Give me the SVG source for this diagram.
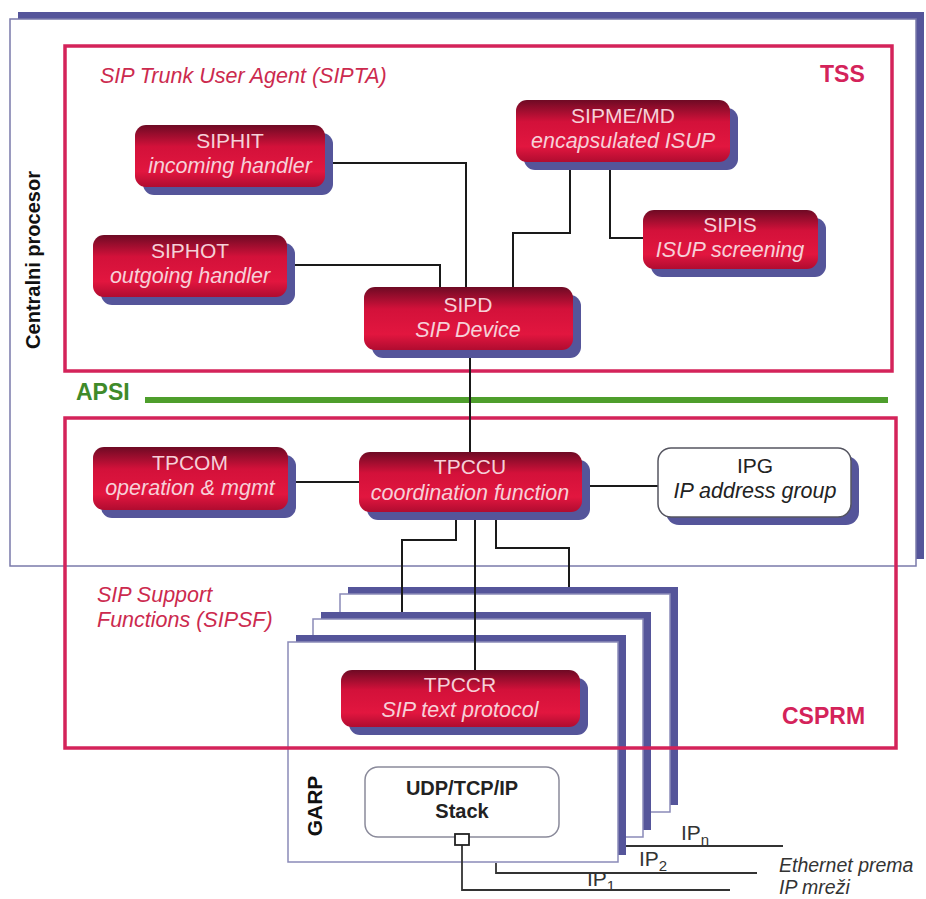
<svg xmlns="http://www.w3.org/2000/svg" width="926" height="899" viewBox="0 0 926 899">
<defs>
<linearGradient id="rg" x1="0" y1="0" x2="0" y2="1">
<stop offset="0" stop-color="#6e0a24"/>
<stop offset="0.35" stop-color="#d3113a"/>
<stop offset="0.75" stop-color="#e2163f"/>
<stop offset="1" stop-color="#b00c30"/>
</linearGradient>
<style>
text{font-family:"Liberation Sans",Arial,sans-serif;}
.sh{fill:#55559a;}
.rn{fill:url(#rg);}
.wn{fill:#ffffff;stroke:#555560;stroke-width:1.5;}
.tt{fill:#f6d0d8;font-size:21px;text-anchor:middle;}
.ts{fill:#f6d0d8;font-size:21.5px;font-style:italic;text-anchor:middle;}
.bt{fill:#222;font-size:21px;text-anchor:middle;}
.bs{fill:#222;font-size:21.5px;font-style:italic;text-anchor:middle;}
.redbox{fill:none;stroke:#d4235a;stroke-width:3.5;}
.lbl{fill:#cc2a4e;font-size:21.5px;font-style:italic;}
.big{fill:#d4235a;font-size:23px;font-weight:bold;}
.card{fill:#ffffff;stroke:#8a8ab8;stroke-width:1.5;}
.con{fill:none;stroke:#1a1a1a;stroke-width:2;}
.eth{fill:none;stroke:#333;stroke-width:1.8;}
.ip{fill:#333;font-size:21px;}
.en{fill:#333;font-size:19.5px;font-style:italic;}
</style>
</defs>
<rect width="926" height="899" fill="#ffffff"/>

<g id="centralni-procesor">
<rect x="18" y="12" width="906" height="547" class="sh"/>
<rect x="10" y="19" width="906" height="547" fill="#ffffff" stroke="#7a7aaa" stroke-width="1.5"/>
<text transform="translate(40,260) rotate(-90)" font-size="20" font-weight="bold" fill="#111" text-anchor="middle">Centralni  procesor</text>
</g>

<g id="garp-cards">
<rect x="348" y="587" width="330" height="218" class="sh"/>
<rect x="340" y="594" width="330" height="218" class="card"/>
<rect x="321" y="612" width="330" height="218" class="sh"/>
<rect x="313" y="619" width="330" height="218" class="card"/>
<rect x="296" y="635" width="330" height="220" class="sh"/>
<rect x="288" y="642" width="330" height="220" class="card"/>
<text transform="translate(322,806) rotate(-90)" font-size="21" font-weight="bold" fill="#111" text-anchor="middle">GARP</text>
</g>

<g id="tss">
<rect x="65" y="46" width="827" height="325" class="redbox"/>
<text x="100" y="83" class="lbl">SIP Trunk User Agent (SIPTA)</text>
<text x="820" y="82" class="big">TSS</text>
</g>

<g id="apsi">
<text x="76" y="400" font-size="23" font-weight="bold" fill="#3f8a2a">APSI</text>
<line x1="145" y1="400" x2="888" y2="400" stroke="#4e9e2c" stroke-width="6"/>
</g>

<g id="csprm">
<rect x="65" y="418" width="831" height="330" class="redbox"/>
<text x="97" y="602" class="lbl">SIP Support</text>
<text x="97" y="627" class="lbl">Functions (SIPSF)</text>
<text x="782" y="724" class="big">CSPRM</text>
</g>

<g id="connectors">
<path class="con" d="M325,163 H466 V287"/>
<path class="con" d="M287,265 H440 V287"/>
<path class="con" d="M570,162 V233 H513 V287"/>
<path class="con" d="M610,162 V238 H643"/>
<path class="con" d="M470,350 V452"/>
<path class="con" d="M288,482 H359"/>
<path class="con" d="M582,486 H658"/>
<path class="con" d="M456,512 V540 H402 V612"/>
<path class="con" d="M475,512 V670"/>
<path class="con" d="M496,512 V548 H569 V587"/>
<path class="eth" d="M462,845 V890 H730"/>
<path class="eth" d="M496,863 V873 H757"/>
<path class="eth" d="M626,846 H783"/>
</g>

<g id="ethernet-labels">
<text x="681" y="840" class="ip">IP<tspan font-size="15" dy="5">n</tspan></text>
<text x="639" y="866" class="ip">IP<tspan font-size="15" dy="5">2</tspan></text>
<text x="587" y="886" class="ip">IP<tspan font-size="15" dy="5">1</tspan></text>
<text x="779" y="872" class="en">Ethernet prema</text>
<text x="779" y="894" class="en">IP mreži</text>
</g>

<g id="SIPHIT">
<rect x="143" y="133" width="190" height="62" rx="11" class="sh"/>
<rect x="135" y="125" width="190" height="62" rx="11" class="rn"/>
<text x="230" y="148" class="tt">SIPHIT</text>
<text x="230" y="173" class="ts">incoming handler</text>
</g>

<g id="SIPHOT">
<rect x="101" y="243" width="194" height="62" rx="11" class="sh"/>
<rect x="93" y="235" width="194" height="62" rx="11" class="rn"/>
<text x="190" y="258" class="tt">SIPHOT</text>
<text x="190" y="283" class="ts">outgoing handler</text>
</g>

<g id="SIPME-MD">
<rect x="524" y="108" width="214" height="62" rx="11" class="sh"/>
<rect x="516" y="100" width="214" height="62" rx="11" class="rn"/>
<text x="623" y="123" class="tt">SIPME/MD</text>
<text x="623" y="148" class="ts">encapsulated ISUP</text>
</g>

<g id="SIPIS">
<rect x="651" y="218" width="175" height="59" rx="11" class="sh"/>
<rect x="643" y="210" width="175" height="59" rx="11" class="rn"/>
<text x="730" y="232" class="tt">SIPIS</text>
<text x="730" y="257" class="ts">ISUP screening</text>
</g>

<g id="SIPD">
<rect x="372" y="295" width="209" height="63" rx="11" class="sh"/>
<rect x="364" y="287" width="209" height="63" rx="11" class="rn"/>
<text x="468" y="312" class="tt">SIPD</text>
<text x="468" y="337" class="ts">SIP Device</text>
</g>

<g id="TPCOM">
<rect x="101" y="455" width="195" height="63" rx="11" class="sh"/>
<rect x="93" y="447" width="195" height="63" rx="11" class="rn"/>
<text x="190" y="470" class="tt">TPCOM</text>
<text x="190" y="495" class="ts">operation &amp; mgmt</text>
</g>

<g id="TPCCU">
<rect x="367" y="460" width="223" height="60" rx="11" class="sh"/>
<rect x="359" y="452" width="223" height="60" rx="11" class="rn"/>
<text x="470" y="474" class="tt">TPCCU</text>
<text x="470" y="500" class="ts">coordination function</text>
</g>

<g id="IPG">
<rect x="666" y="456" width="193" height="69" rx="13" class="sh"/>
<rect x="658" y="448" width="193" height="69" rx="13" class="wn"/>
<text x="755" y="473" class="bt">IPG</text>
<text x="755" y="498" class="bs">IP address group</text>
</g>

<g id="TPCCR">
<rect x="349" y="678" width="239" height="57" rx="11" class="sh"/>
<rect x="341" y="670" width="239" height="57" rx="11" class="rn"/>
<text x="460" y="692" class="tt">TPCCR</text>
<text x="460" y="717" class="ts">SIP text protocol</text>
</g>

<g id="UDP-stack">
<rect x="365" y="767" width="194" height="70" rx="13" fill="#ffffff" stroke="#8a8a9a" stroke-width="1.5"/>
<text x="462" y="795" font-size="20" font-weight="bold" fill="#222" text-anchor="middle">UDP/TCP/IP</text>
<text x="462" y="818" font-size="20" font-weight="bold" fill="#222" text-anchor="middle">Stack</text>
<rect x="455" y="834" width="14" height="11" fill="#ffffff" stroke="#222" stroke-width="1.8"/>
</g>
</svg>
